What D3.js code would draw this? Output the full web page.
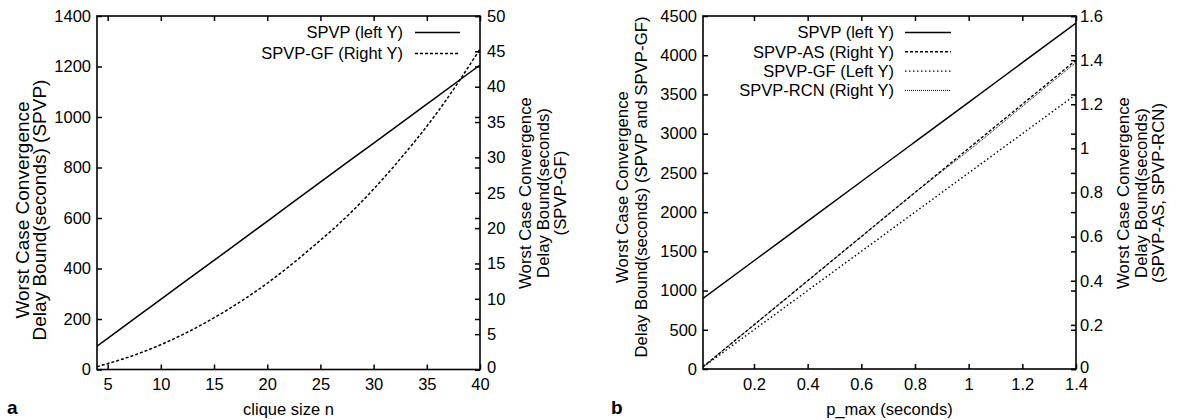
<!DOCTYPE html>
<html>
<head>
<meta charset="utf-8">
<script src="https://cdn.jsdelivr.net/npm/d3@7"></script>
<style>
  html, body { margin: 0; padding: 0; background: #fff; }
  svg { display: block; }
</style>
</head>
<body>
<svg id="chart" width="1181" height="420"></svg>
<script>
// panel a: clique size sweep
const cliqueSizes = [4, 8, 12, 16, 20, 24, 28, 32, 36, 40];
const spvpClique = [92, 216, 340, 463, 587, 711, 835, 958, 1082, 1206];
const spvpGfClique = [0.4, 2.3, 4.9, 8.2, 12.2, 17.0, 22.4, 28.9, 36.4, 45.3];
const cliqueXTicks = [5, 10, 15, 20, 25, 30, 35, 40];
const cliqueYTicks = [0, 200, 400, 600, 800, 1000, 1200, 1400];
const cliqueY2Ticks = [0, 5, 10, 15, 20, 25, 30, 35, 40, 45, 50];

// panel b: p_max sweep
const pMax = [0.01, 0.2, 0.4, 0.6, 0.8, 1.0, 1.2, 1.4];
const spvpP = [900, 1380, 1885, 2390, 2895, 3400, 3905, 4410];
const spvpAsP = [0.01, 0.2, 0.4, 0.6, 0.8, 1.0, 1.2, 1.4];
const spvpGfP = [25, 500, 1000, 1500, 2000, 2500, 3000, 3500];
const spvpRcnP = [0.01, 0.2, 0.4, 0.6, 0.8, 0.99, 1.19, 1.39];
const pXTicks = [0.2, 0.4, 0.6, 0.8, 1, 1.2, 1.4];
const pYTicks = [0, 500, 1000, 1500, 2000, 2500, 3000, 3500, 4000, 4500];
const pY2Ticks = [0, 0.2, 0.4, 0.6, 0.8, 1, 1.2, 1.4, 1.6];

(() => {
  const FONT = "'Liberation Sans', Arial, Helvetica, sans-serif";
  const TICK_SIZE = 16.5;
  const svg = d3.select("#chart").style("font-family", FONT);

  function drawPanel(cfg) {
    const g = svg.append("g");
    const x = d3.scaleLinear().domain(cfg.xDomain).range([cfg.left, cfg.right]);
    const y = d3.scaleLinear().domain(cfg.yDomain).range([cfg.bottom, cfg.top]);
    const y2 = d3.scaleLinear().domain(cfg.y2Domain).range([cfg.bottom, cfg.top]);
    const fmt = d3.format("~g");

    const styleAxis = (sel) => {
      sel.select(".domain").remove();
      sel.selectAll(".tick line").attr("stroke", "#000").attr("stroke-width", 1.5);
      sel.selectAll(".tick text").attr("fill", "#000").style("font-size", TICK_SIZE + "px");
    };

    g.append("g")
      .attr("transform", `translate(0,${cfg.bottom})`)
      .call(d3.axisBottom(x).tickValues(cfg.xTicks).tickFormat(fmt)
        .tickSizeInner(-5).tickSizeOuter(0).tickPadding(9))
      .call(styleAxis);
    g.append("g")
      .attr("transform", `translate(0,${cfg.top})`)
      .call(d3.axisTop(x).tickValues(cfg.xTicks).tickFormat("")
        .tickSizeInner(-5).tickSizeOuter(0))
      .call(styleAxis);
    g.append("g")
      .attr("transform", `translate(${cfg.left},0)`)
      .call(d3.axisLeft(y).tickValues(cfg.yTicks).tickFormat(fmt)
        .tickSizeInner(-5).tickSizeOuter(0).tickPadding(6))
      .call(styleAxis);
    // left ticks mirrored on the right edge
    g.append("g")
      .attr("transform", `translate(${cfg.right},0)`)
      .call(d3.axisRight(y).tickValues(cfg.yTicks).tickFormat("")
        .tickSizeInner(-5).tickSizeOuter(0))
      .call(styleAxis);
    const y2Axis = g.append("g")
      .attr("transform", `translate(${cfg.right},0)`)
      .call(d3.axisRight(y2).tickValues(cfg.y2Ticks).tickFormat(fmt)
        .tickSizeInner(-5).tickSizeOuter(0).tickPadding(cfg.y2Pad))
      .call(styleAxis);
    // the bottom label sits a touch higher so it clears the x label below it
    y2Axis.selectAll(".tick text").filter((d) => d === 0).attr("dy", "0.2em");

    g.append("rect")
      .attr("x", cfg.left).attr("y", cfg.top)
      .attr("width", cfg.right - cfg.left).attr("height", cfg.bottom - cfg.top)
      .attr("fill", "none").attr("stroke", "#000").attr("stroke-width", 1.6);

    const clipId = "clip-" + cfg.name;
    g.append("clipPath").attr("id", clipId).append("rect")
      .attr("x", cfg.left).attr("y", cfg.top - 1)
      .attr("width", cfg.right - cfg.left).attr("height", cfg.bottom - cfg.top + 1);

    const lines = g.append("g").attr("clip-path", `url(#${clipId})`);
    cfg.series.forEach((s) => {
      const ys = s.axis === "y2" ? y2 : y;
      const line = d3.line()
        .x((d, i) => x(s.xs[i]))
        .y((d) => ys(d))
        .curve(d3.curveMonotoneX);
      lines.append("path")
        .attr("d", line(s.values))
        .attr("fill", "none")
        .attr("stroke", "#000")
        .attr("stroke-width", s.width)
        .attr("stroke-dasharray", s.dash);
    });

    // legend
    cfg.series.forEach((s, i) => {
      const ly = cfg.legend.top + i * cfg.legend.step;
      g.append("text")
        .attr("x", cfg.legend.textRight).attr("y", ly).attr("dy", "0.35em")
        .attr("text-anchor", "end").style("font-size", TICK_SIZE + "px")
        .text(s.label);
      g.append("line")
        .attr("x1", cfg.legend.x1).attr("x2", cfg.legend.x2)
        .attr("y1", ly).attr("y2", ly)
        .attr("stroke", "#000").attr("stroke-width", s.width)
        .attr("stroke-dasharray", s.dash);
    });

    const rotated = (t) => {
      t.lines.forEach((txt, i) => {
        g.append("text")
          .attr("transform", `translate(${t.xs[i]},${t.cy}) rotate(-90)`)
          .attr("text-anchor", "middle").attr("dy", "0.35em")
          .style("font-size", t.size + "px")
          .text(txt);
      });
    };
    rotated(cfg.yTitle);
    rotated(cfg.y2Title);

    g.append("text")
      .attr("x", (cfg.left + cfg.right) / 2).attr("y", 409).attr("dy", "0.35em")
      .attr("text-anchor", "middle").style("font-size", TICK_SIZE + "px")
      .text(cfg.xTitle);
    g.append("text")
      .attr("x", cfg.tag.x).attr("y", 407).attr("dy", "0.35em")
      .style("font-size", "19px").style("font-weight", "bold")
      .text(cfg.tag.text);
  }

  drawPanel({
    name: "a",
    left: 97, right: 480, top: 16, bottom: 369.5,
    xDomain: [4, 40], yDomain: [0, 1400], y2Domain: [0, 50],
    xTicks: cliqueXTicks, yTicks: cliqueYTicks, y2Ticks: cliqueY2Ticks,
    y2Pad: 7,
    series: [
      { label: "SPVP (left Y)", xs: cliqueSizes, values: spvpClique, axis: "y", dash: null, width: 1.5 },
      { label: "SPVP-GF (Right Y)", xs: cliqueSizes, values: spvpGfClique, axis: "y2", dash: "3,2", width: 1.5 },
    ],
    legend: { top: 32.5, step: 21, textRight: 403, x1: 415, x2: 460 },
    yTitle: { lines: ["Worst Case Convergence", "Delay Bound(seconds) (SPVP)"], xs: [22, 39], cy: 210, size: 19 },
    y2Title: { lines: ["Worst Case Convergence", "Delay Bound(seconds)", "(SPVP-GF)"], xs: [525, 543, 560], cy: 193, size: 16.8 },
    xTitle: "clique size n",
    tag: { x: 7, text: "a" },
  });

  drawPanel({
    name: "b",
    left: 703, right: 1076, top: 16, bottom: 369,
    xDomain: [0.01, 1.4], yDomain: [0, 4500], y2Domain: [0, 1.6],
    xTicks: pXTicks, yTicks: pYTicks, y2Ticks: pY2Ticks,
    y2Pad: 4,
    series: [
      { label: "SPVP (left Y)", xs: pMax, values: spvpP, axis: "y", dash: null, width: 1.5 },
      { label: "SPVP-AS (Right Y)", xs: pMax, values: spvpAsP, axis: "y2", dash: "3,2", width: 1.4 },
      { label: "SPVP-GF (Left Y)", xs: pMax, values: spvpGfP, axis: "y", dash: "1.5,2.5", width: 1.4 },
      { label: "SPVP-RCN (Right Y)", xs: pMax, values: spvpRcnP, axis: "y2", dash: "1,1", width: 1 },
    ],
    legend: { top: 32.5, step: 19.3, textRight: 894, x1: 905, x2: 951 },
    yTitle: { lines: ["Worst Case Convergence", "Delay Bound(seconds) (SPVP and SPVP-GF)"], xs: [622, 641], cy: 187, size: 16.8 },
    y2Title: { lines: ["Worst Case Convergence", "Delay Bound(seconds)", "(SPVP-AS, SPVP-RCN)"], xs: [1123.5, 1141, 1158.5], cy: 193, size: 16.8 },
    xTitle: "p_max (seconds)",
    tag: { x: 611, text: "b" },
  });
})();
</script>
</body>
</html>
